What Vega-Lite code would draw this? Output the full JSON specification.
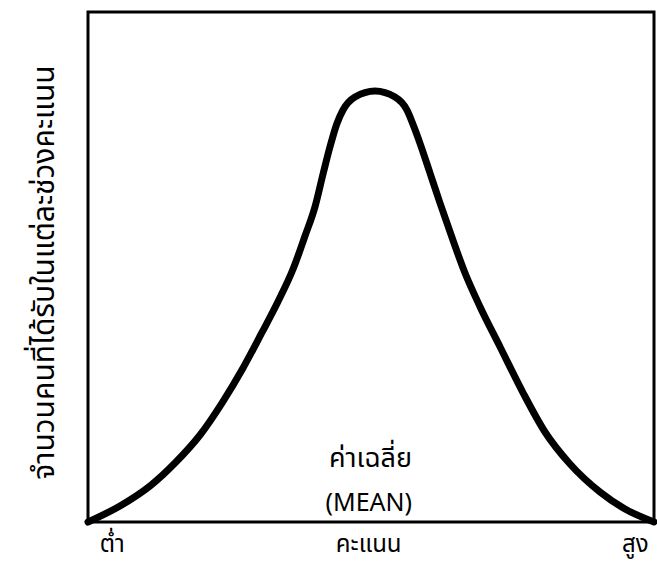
{
  "$schema": "https://vega.github.io/schema/vega-lite/v6.json",
  "width": 566,
  "height": 510,
  "autosize": {"type": "none"},
  "padding": {"left": 88, "top": 12, "right": 3, "bottom": 42},
  "background": "white",
  "view": {"stroke": "black", "strokeWidth": 3, "fill": "white"},
  "config": {"font": "Noto Sans Thai, Noto Sans, DejaVu Sans, sans-serif"},
  "layer": [
    {
      "data": {
        "values": [
          {"x": 0, "y": 0},
          {"x": 5.65, "y": 3.14},
          {"x": 10.95, "y": 7.06},
          {"x": 15.37, "y": 11.57},
          {"x": 19.79, "y": 17.06},
          {"x": 23.67, "y": 23.33},
          {"x": 27.39, "y": 30.2},
          {"x": 30.69, "y": 37.06},
          {"x": 33.62, "y": 43.33},
          {"x": 36.27, "y": 49.7},
          {"x": 38.34, "y": 56.08},
          {"x": 40.11, "y": 61.82},
          {"x": 41.57, "y": 68.43},
          {"x": 42.76, "y": 73.59},
          {"x": 43.94, "y": 78.0},
          {"x": 45.05, "y": 80.78},
          {"x": 47.17, "y": 83.33},
          {"x": 50.71, "y": 84.51},
          {"x": 54.24, "y": 83.33},
          {"x": 56.36, "y": 80.78},
          {"x": 57.6, "y": 77.45},
          {"x": 58.66, "y": 74.25},
          {"x": 60.42, "y": 68.43},
          {"x": 62.19, "y": 62.55},
          {"x": 64.26, "y": 55.94},
          {"x": 66.61, "y": 48.82},
          {"x": 69.26, "y": 42.22},
          {"x": 72.79, "y": 34.37},
          {"x": 76.91, "y": 25.24},
          {"x": 80.74, "y": 17.65},
          {"x": 85.16, "y": 11.37},
          {"x": 90.46, "y": 5.88},
          {"x": 94.88, "y": 2.55},
          {"x": 100, "y": 0}
        ]
      },
      "mark": {"type": "line", "interpolate": "monotone", "color": "black", "strokeWidth": 7, "strokeCap": "round", "strokeJoin": "round", "clip": false},
      "encoding": {
        "x": {
          "field": "x", "type": "quantitative",
          "scale": {"domain": [0, 100], "nice": false, "zero": false},
          "axis": {
            "values": [4.2, 49.5, 96.6],
            "labelExpr": "datum.value < 20 ? 'ต่ำ' : datum.value < 80 ? 'คะแนน' : 'สูง'",
            "ticks": false, "domain": false, "grid": false,
            "labelFontSize": 24, "labelColor": "black", "labelPadding": 10,
            "labelFlush": false, "labelOverlap": false,
            "title": null
          }
        },
        "y": {
          "field": "y", "type": "quantitative",
          "scale": {"domain": [0, 100], "nice": false, "zero": false},
          "axis": {
            "labels": false, "ticks": false, "domain": false, "grid": false,
            "title": "จำนวนคนที่ได้รับในแต่ละช่วงคะแนน",
            "titleFontSize": 30, "titleFontWeight": "normal", "titleColor": "black",
            "titleAngle": -90, "titleX": -44, "titleY": 260,
            "titleAlign": "center", "titleBaseline": "middle"
          }
        }
      }
    },
    {
      "data": {
        "values": [
          {"x": 49.9, "y": 12.4, "label": "ค่าเฉลี่ย", "size": 27, "weight": "bold"},
          {"x": 49.6, "y": 3.8, "label": "(MEAN)", "size": 25, "weight": "normal"}
        ]
      },
      "mark": {"type": "text", "color": "black", "align": "center", "baseline": "middle"},
      "encoding": {
        "x": {"field": "x", "type": "quantitative"},
        "y": {"field": "y", "type": "quantitative"},
        "text": {"field": "label"},
        "size": {"field": "size", "type": "quantitative", "scale": null},
        "fontWeight": {"field": "weight", "type": "nominal", "scale": null}
      }
    }
  ]
}
